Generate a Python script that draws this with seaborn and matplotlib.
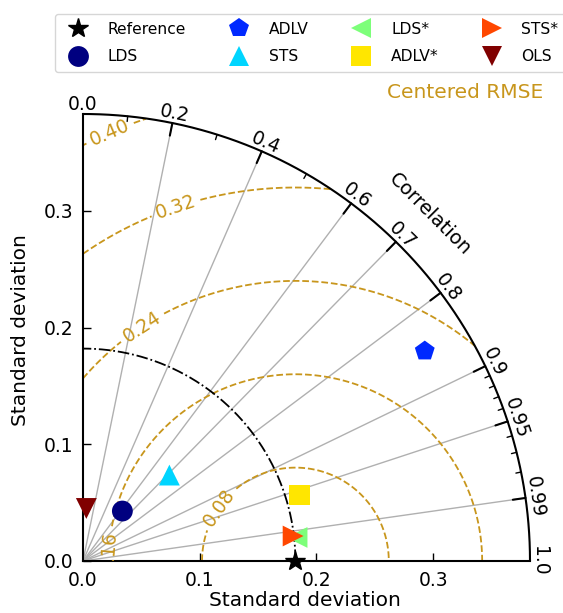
import numpy as np
import pandas as pd
import matplotlib
matplotlib.use("Agg")
import matplotlib.pyplot as plt
from matplotlib.lines import Line2D
import seaborn as sns

# Model statistics (standard deviation and correlation against the reference)
models = ["LDS", "ADLV", "STS", "LDS*", "ADLV*", "STS*", "OLS"]
std_dev = [0.0545, 0.3437, 0.1044, 0.1845, 0.1940, 0.1813, 0.0451]
correlation = [0.619, 0.852, 0.709, 0.994, 0.9565, 0.993, 0.063]
marker_shapes = ["o", "p", "^", "<", "s", ">", "v"]

ref_std = 0.182
std_max = 0.383
rmse_levels = [0.08, 0.16, 0.24, 0.32, 0.40]
corr_major = [0.0, 0.2, 0.4, 0.6, 0.7, 0.8, 0.9, 0.95, 0.99, 1.0]
corr_major_text = ["0.0", "0.2", "0.4", "0.6", "0.7", "0.8", "0.9", "0.95", "0.99", "1.0"]
corr_minor = [0.1, 0.3, 0.5, 0.91, 0.92, 0.93, 0.94, 0.96, 0.97, 0.98]
std_ticks = [0.0, 0.1, 0.2, 0.3]
std_tick_text = ["0.0", "0.1", "0.2", "0.3"]

sns.set_style("white")
plt.rcParams["font.family"] = ["DejaVu Sans"]
plt.rcParams["text.color"] = "black"
plt.rcParams["axes.labelcolor"] = "black"
plt.rcParams["xtick.color"] = "black"
plt.rcParams["ytick.color"] = "black"

rmse_color = "#c8961c"
grid_color = "#b0b0b0"
colors = [tuple(c) for c in plt.get_cmap("jet")(np.linspace(0, 1, len(models)))]

df = pd.DataFrame({"model": models, "std": std_dev, "corr": correlation})
df["x"] = df["std"] * df["corr"]
df["y"] = df["std"] * np.sqrt(1 - df["corr"] ** 2)

fig = plt.figure(figsize=(5.63, 6.13), dpi=100)
ax = fig.add_axes([83 / 563, 52 / 613, 447 / 563, 447 / 613])
ax.set_xlim(0, std_max)
ax.set_ylim(0, std_max)
ax.set_aspect("auto")

# correlation rays
for c in corr_major[1:-1]:
    th = np.arccos(c)
    ax.plot([0, std_max * np.cos(th)], [0, std_max * np.sin(th)],
            color=grid_color, lw=1.0, zorder=1)

# centered RMSE contours around the reference point
xs = np.linspace(0, std_max, 800)
X, Y = np.meshgrid(xs, xs)
Z = np.hypot(X - ref_std, Y)
Z[np.hypot(X, Y) > std_max] = np.nan
cs = ax.contour(X, Y, Z, levels=rmse_levels, colors=rmse_color,
                linestyles="--", linewidths=1.3, zorder=2)
label_pos = [(0.1157, 0.0463), (0.0205, 0.0080), (0.0506, 0.2005),
             (0.0788, 0.3050), (0.0231, 0.3668)]
ax.clabel(cs, fmt="%.2f", fontsize=13.5, inline=True, manual=label_pos)

# reference standard deviation arc
t = np.linspace(0, np.pi / 2, 300)
ax.plot(ref_std * np.cos(t), ref_std * np.sin(t), color="black",
        ls="-.", lw=1.3, zorder=2)

# outer arc
ax.plot(std_max * np.cos(t), std_max * np.sin(t), color="black",
        lw=1.5, zorder=4, clip_on=False)

# correlation ticks and labels
for c, txt in zip(corr_major, corr_major_text):
    th = np.arccos(c)
    if 0 < c < 1:
        ax.plot([std_max * np.cos(th), (std_max - 0.011) * np.cos(th)],
                [std_max * np.sin(th), (std_max - 0.011) * np.sin(th)],
                color="black", lw=1.5, zorder=4, clip_on=False)
    ax.text(std_max * np.cos(th), std_max * np.sin(th), txt,
            rotation=np.degrees(th) - 90, rotation_mode="anchor",
            ha="center", va="bottom", fontsize=13.5, clip_on=False)
for c in corr_minor:
    th = np.arccos(c)
    ax.plot([std_max * np.cos(th), (std_max - 0.0045) * np.cos(th)],
            [std_max * np.sin(th), (std_max - 0.0045) * np.sin(th)],
            color="black", lw=1.0, zorder=4, clip_on=False)

r_lab = 0.4207
ax.text(r_lab * np.cos(np.pi / 4), r_lab * np.sin(np.pi / 4), "Correlation",
        rotation=-45, ha="center", va="center", fontsize=14, clip_on=False)

# model points
palette = dict(zip(models, colors))
markers = dict(zip(models, marker_shapes))
sns.scatterplot(data=df, x="x", y="y", hue="model", style="model",
                palette=palette, markers=markers, s=225, linewidth=0,
                legend=False, ax=ax, zorder=5, clip_on=False)
ax.plot([ref_std], [0], marker="*", color="black", markersize=15,
        ls="none", zorder=6, clip_on=False)

# axes styling
for side in ["top", "right"]:
    ax.spines[side].set_visible(False)
for side in ["left", "bottom"]:
    ax.spines[side].set_linewidth(1.5)
    ax.spines[side].set_color("black")
ax.set_xticks(std_ticks)
ax.set_xticklabels(std_tick_text)
ax.set_yticks(std_ticks)
ax.set_yticklabels(std_tick_text)
ax.tick_params(direction="in", length=6, width=1.0, pad=7, labelsize=13.5,
               colors="black", bottom=True, left=True)
ax.set_xlabel("Standard deviation", fontsize=14.5)
ax.set_ylabel("Standard deviation", fontsize=14.5)
ax.xaxis.set_label_coords(0.497, -0.067)
ax.yaxis.set_label_coords(-0.119, 0.517)
ax.grid(False)

ax.text(0.855, 1.048, "Centered RMSE", transform=ax.transAxes, color=rmse_color,
        fontsize=14.5, ha="center", va="center")

# legend
handles = [Line2D([], [], marker="*", color="black", ls="none", markersize=15)]
labels = ["Reference"]
for m, c, mk in zip(models, colors, marker_shapes):
    handles.append(Line2D([], [], marker=mk, color=c, ls="none",
                          markersize=15, markeredgewidth=0))
    labels.append(m)
fig.legend(handles, labels, ncol=4, loc="upper left",
           bbox_to_anchor=(55 / 563, 1 - 14 / 613), borderaxespad=0,
           fontsize=11.2, frameon=True, edgecolor="0.8",
           handletextpad=0.9, columnspacing=2.4, labelspacing=0.8,
           borderpad=0.5)

fig.savefig("out.png", dpi=100)
